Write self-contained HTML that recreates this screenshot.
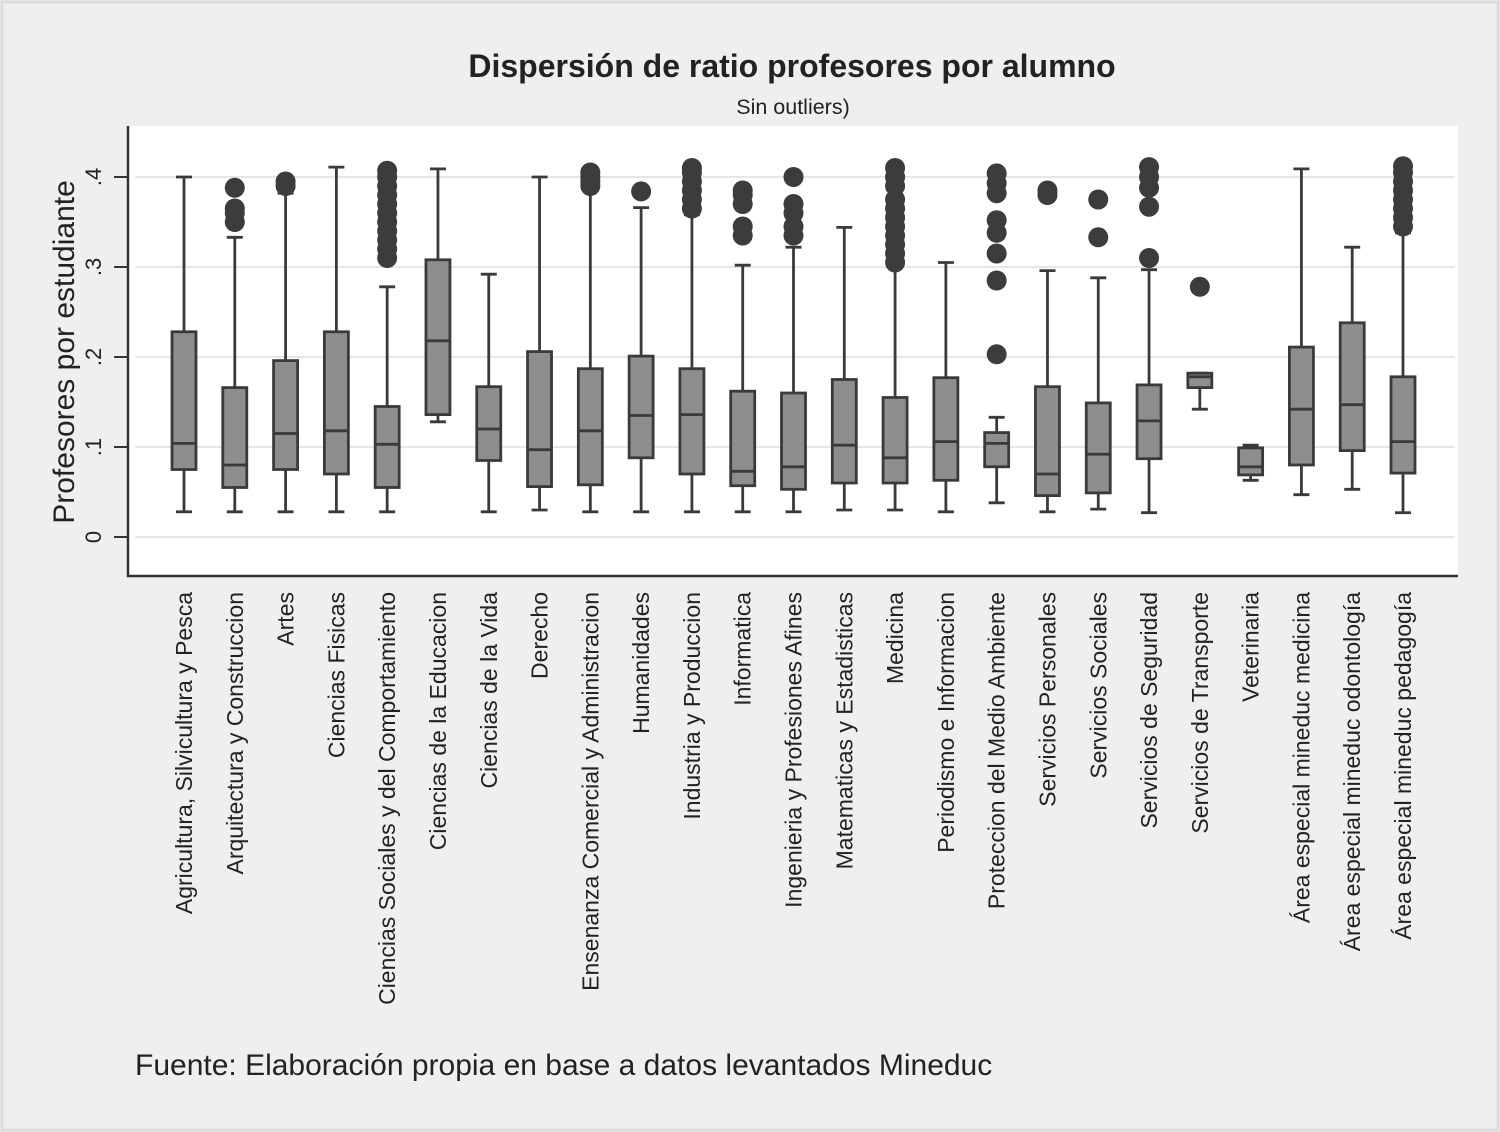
<!DOCTYPE html>
<html><head><meta charset="utf-8"><style>
html,body{margin:0;padding:0;background:#efefef;}
svg{display:block;font-family:"Liberation Sans",Arial,sans-serif;}
</style></head><body>
<svg id="chart" width="1500" height="1132" viewBox="0 0 1500 1132">
<rect x="0" y="0" width="1500" height="1132" fill="#efefef"/>
<rect x="2" y="2" width="1496" height="1128" fill="none" stroke="#dcdcdc" stroke-width="3"/>
<text x="792" y="77" text-anchor="middle" font-size="32" font-weight="bold" fill="#222">Dispersión de ratio profesores por alumno</text>
<text x="793" y="114" text-anchor="middle" font-size="21.5" fill="#222">Sin outliers)</text>
<rect x="128" y="126" width="1330" height="450" fill="#ffffff"/>
<g id="grid"></g>
<g id="boxes"></g>
<line x1="128" y1="126" x2="128" y2="577" stroke="#333" stroke-width="2.5"/>
<line x1="127" y1="576" x2="1458" y2="576" stroke="#333" stroke-width="2.5"/>
<g id="yticks"></g>
<g id="xlabels"></g>
<text transform="translate(74,352) rotate(-90)" text-anchor="middle" font-size="30" fill="#222">Profesores por estudiante</text>
<text x="135" y="1075" font-size="30" fill="#222">Fuente: Elaboración propia en base a datos levantados Mineduc</text>
</svg>
<script>
const categories = ["Agricultura, Silvicultura y Pesca","Arquitectura y Construccion","Artes","Ciencias Fisicas","Ciencias Sociales y del Comportamiento","Ciencias de la Educacion","Ciencias de la Vida","Derecho","Ensenanza Comercial y Administracion","Humanidades","Industria y Produccion","Informatica","Ingenieria y Profesiones Afines","Matematicas y Estadisticas","Medicina","Periodismo e Informacion","Proteccion del Medio Ambiente","Servicios Personales","Servicios Sociales","Servicios de Seguridad","Servicios de Transporte","Veterinaria","Área especial mineduc medicina","Área especial mineduc odontología","Área especial mineduc pedagogía"];
const whiskerLow = [0.028,0.028,0.028,0.028,0.028,0.128,0.028,0.030,0.028,0.028,0.028,0.028,0.028,0.030,0.030,0.028,0.038,0.028,0.031,0.027,0.142,0.063,0.047,0.053,0.027];
const q1 =        [0.075,0.055,0.075,0.070,0.055,0.136,0.085,0.056,0.058,0.088,0.070,0.057,0.053,0.060,0.060,0.063,0.078,0.046,0.049,0.087,0.166,0.069,0.080,0.096,0.071];
const median =    [0.104,0.080,0.115,0.118,0.103,0.218,0.120,0.097,0.118,0.135,0.136,0.073,0.078,0.102,0.088,0.106,0.104,0.070,0.092,0.129,0.178,0.078,0.142,0.147,0.106];
const q3 =        [0.228,0.166,0.196,0.228,0.145,0.308,0.167,0.206,0.187,0.201,0.187,0.162,0.160,0.175,0.155,0.177,0.116,0.167,0.149,0.169,0.182,0.099,0.211,0.238,0.178];
const whiskerHigh=[0.400,0.333,0.382,0.411,0.278,0.409,0.292,0.400,0.388,0.366,0.358,0.302,0.322,0.344,0.300,0.305,0.133,0.296,0.288,0.297,0.182,0.102,0.409,0.322,0.338];
const outliers = [
 [],
 [0.350,0.360,0.365,0.388],
 [0.390,0.395],
 [],
 [0.310,0.320,0.330,0.340,0.350,0.360,0.370,0.380,0.390,0.400,0.407],
 [],
 [],
 [],
 [0.390,0.395,0.400,0.405],
 [0.384],
 [0.365,0.375,0.385,0.395,0.405,0.410],
 [0.335,0.345,0.370,0.380,0.385],
 [0.335,0.345,0.360,0.370,0.400],
 [],
 [0.305,0.315,0.325,0.335,0.345,0.355,0.365,0.375,0.390,0.400,0.410],
 [],
 [0.203,0.285,0.315,0.338,0.352,0.382,0.393,0.404],
 [0.380,0.385],
 [0.333,0.375],
 [0.310,0.367,0.388,0.400,0.411],
 [0.278],
 [],
 [],
 [],
 [0.345,0.355,0.365,0.375,0.385,0.395,0.405,0.412]
];
const yTicks = [0,0.1,0.2,0.3,0.4];
const yTickLabels = ["0",".1",".2",".3",".4"];

const NS="http://www.w3.org/2000/svg";
function y(v){return 537-900*v;}
function x(i){return 184+i*(1403-184)/(categories.length-1);}
function mk(tag,attrs,parent){const e=document.createElementNS(NS,tag);for(const k in attrs)e.setAttribute(k,attrs[k]);parent.appendChild(e);return e;}
const grid=document.getElementById('grid'),boxes=document.getElementById('boxes'),yt=document.getElementById('yticks'),xl=document.getElementById('xlabels');
yTicks.forEach((t,i)=>{
  const g=mk('line',{x1:135,x2:1455,y1:y(t),y2:y(t),stroke:'#e6e6e6','stroke-width':2},grid);
  
  
  const tk=mk('line',{x1:114,x2:128,y1:y(t),y2:y(t),stroke:'#333','stroke-width':2},yt);
  
  
  const tx=mk('text',{transform:`translate(101,${y(t)}) rotate(-90)`,'text-anchor':'middle','font-size':22,fill:'#222'},yt);
  tx.textContent=yTickLabels[i];
  
  
});
categories.forEach((c,i)=>{
  const cx=x(i),hw=12,cw=8;
  const g=mk('g',{},boxes);
  
  
  const st={stroke:'#3a3a3a','stroke-width':2.8};
  mk('line',Object.assign({x1:cx,x2:cx,y1:y(whiskerHigh[i]),y2:y(q3[i])},st),g);
  mk('line',Object.assign({x1:cx,x2:cx,y1:y(q1[i]),y2:y(whiskerLow[i])},st),g);
  mk('line',Object.assign({x1:cx-cw,x2:cx+cw,y1:y(whiskerHigh[i]),y2:y(whiskerHigh[i])},st),g);
  mk('line',Object.assign({x1:cx-cw,x2:cx+cw,y1:y(whiskerLow[i]),y2:y(whiskerLow[i])},st),g);
  mk('rect',Object.assign({x:cx-hw,y:y(q3[i]),width:hw*2,height:y(q1[i])-y(q3[i]),fill:'#8e8e8e'},st),g);
  mk('line',Object.assign({x1:cx-hw,x2:cx+hw,y1:y(median[i]),y2:y(median[i])},st),g);
  outliers[i].forEach(v=>{
    const o=mk('circle',{cx:cx,cy:y(v),r:10,fill:'#3c3c3c'},g);
    
    
  });
  const t=mk('text',{transform:`translate(${cx+8},592) rotate(-90)`,'text-anchor':'end','font-size':23,fill:'#222'},xl);
  t.textContent=c;
  
  
});
</script>
</body></html>
